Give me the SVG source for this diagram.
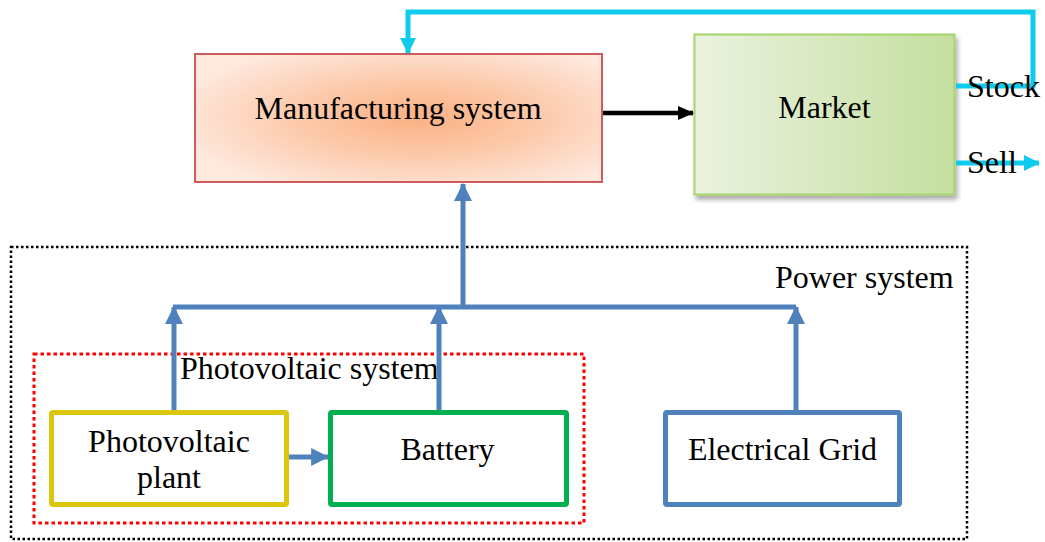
<svg xmlns="http://www.w3.org/2000/svg" width="1045" height="542" viewBox="0 0 1045 542">
  <defs>
    <radialGradient id="mfgGrad" cx="0.55" cy="0.5" r="0.62" gradientUnits="objectBoundingBox">
      <stop offset="0" stop-color="#fbb083"/>
      <stop offset="0.45" stop-color="#fcc8a8"/>
      <stop offset="1" stop-color="#fee9df"/>
    </radialGradient>
    <linearGradient id="mktGrad" x1="0" y1="0" x2="1" y2="0">
      <stop offset="0" stop-color="#ebf2e0"/>
      <stop offset="1" stop-color="#c4df9f"/>
    </linearGradient>
    <filter id="shadow" x="-10%" y="-10%" width="130%" height="130%">
      <feGaussianBlur in="SourceAlpha" stdDeviation="2.5"/>
      <feOffset dx="2" dy="4" result="b"/>
      <feComponentTransfer><feFuncA type="linear" slope="0.35"/></feComponentTransfer>
      <feMerge><feMergeNode/><feMergeNode in="SourceGraphic"/></feMerge>
    </filter>
    <marker id="blueHead" markerUnits="userSpaceOnUse" markerWidth="18" markerHeight="18" viewBox="0 0 16 16" refX="15" refY="8" orient="auto">
      <path d="M0,0 L16,8 L0,16 z" fill="#4f81bd"/>
    </marker>
    <marker id="cyanHead" markerUnits="userSpaceOnUse" markerWidth="16" markerHeight="16" viewBox="0 0 16 16" refX="15" refY="8" orient="auto">
      <path d="M0,0 L16,8 L0,16 z" fill="#0fcbee"/>
    </marker>
    <marker id="blackHead" markerUnits="userSpaceOnUse" markerWidth="16" markerHeight="16" viewBox="0 0 16 16" refX="15" refY="8" orient="auto">
      <path d="M0,1 L16,8 L0,15 z" fill="#000"/>
    </marker>
  </defs>
  <style>
    text { font-family: "Liberation Serif", "Times New Roman", serif; font-size: 32px; fill: #000; }
    .mid { text-anchor: middle; }
    .blue { stroke: #4f81bd; stroke-width: 5; fill: none; }
    .cyan { stroke: #0fcbee; stroke-width: 5; fill: none; }
  </style>

  <g id="power-system">
    <rect x="11" y="247" width="956" height="292" fill="none" stroke="#000" stroke-width="2.5" stroke-dasharray="2.5 2.5"/>
    <text x="775" y="288">Power system</text>
  </g>

  <g id="photovoltaic-system">
    <rect x="34" y="354" width="550" height="169" fill="none" stroke="#ff0000" stroke-width="3" stroke-dasharray="3.5 3"/>
    <text x="180" y="379">Photovoltaic system</text>
  </g>

  <g id="manufacturing">
    <rect x="195" y="54" width="407" height="128" fill="url(#mfgGrad)" stroke="#cd5c5c" stroke-width="2"/>
    <text class="mid" x="398" y="119">Manufacturing system</text>
  </g>

  <g id="market">
    <rect x="694.5" y="34.5" width="260" height="160" fill="url(#mktGrad)" stroke="#a5d46a" stroke-width="2" filter="url(#shadow)"/>
    <text class="mid" x="824.5" y="118">Market</text>
  </g>

  <g id="pv-plant">
    <rect x="51.5" y="412.5" width="235" height="92" fill="#fff" stroke="#dbc60b" stroke-width="5" rx="1.5"/>
    <text class="mid" x="169" y="452">Photovoltaic</text>
    <text class="mid" x="169" y="488">plant</text>
  </g>

  <g id="battery">
    <rect x="330.5" y="412.5" width="236" height="92" fill="#fff" stroke="#00b050" stroke-width="5" rx="1.5"/>
    <text class="mid" x="447.5" y="460">Battery</text>
  </g>

  <g id="grid">
    <rect x="665.5" y="412.5" width="234" height="92" fill="#fff" stroke="#4f81bd" stroke-width="5" rx="1.5"/>
    <text class="mid" x="782.5" y="460">Electrical Grid</text>
  </g>

  <g id="connectors">
    <line class="blue" x1="173" y1="307" x2="796" y2="307"/>
    <line class="blue" x1="463" y1="307" x2="463" y2="184" marker-end="url(#blueHead)"/>
    <line class="blue" x1="174" y1="410" x2="174" y2="307" marker-end="url(#blueHead)"/>
    <line class="blue" x1="439" y1="410" x2="439" y2="307" marker-end="url(#blueHead)"/>
    <line class="blue" x1="796" y1="410" x2="796" y2="307" marker-end="url(#blueHead)"/>
    <line class="blue" x1="289" y1="457" x2="328" y2="457" marker-end="url(#blueHead)"/>
    <line x1="603" y1="113" x2="693" y2="113" stroke="#000" stroke-width="4.5" marker-end="url(#blackHead)"/>
    <polyline class="cyan" points="956,86 1033,86 1033,12 408,12 408,53" marker-end="url(#cyanHead)"/>
    <line class="cyan" x1="956" y1="163" x2="1039" y2="163" marker-end="url(#cyanHead)"/>
  </g>

  <g id="market-labels">
    <text x="967" y="97">Stock</text>
    <text x="967" y="173">Sell</text>
  </g>
</svg>
